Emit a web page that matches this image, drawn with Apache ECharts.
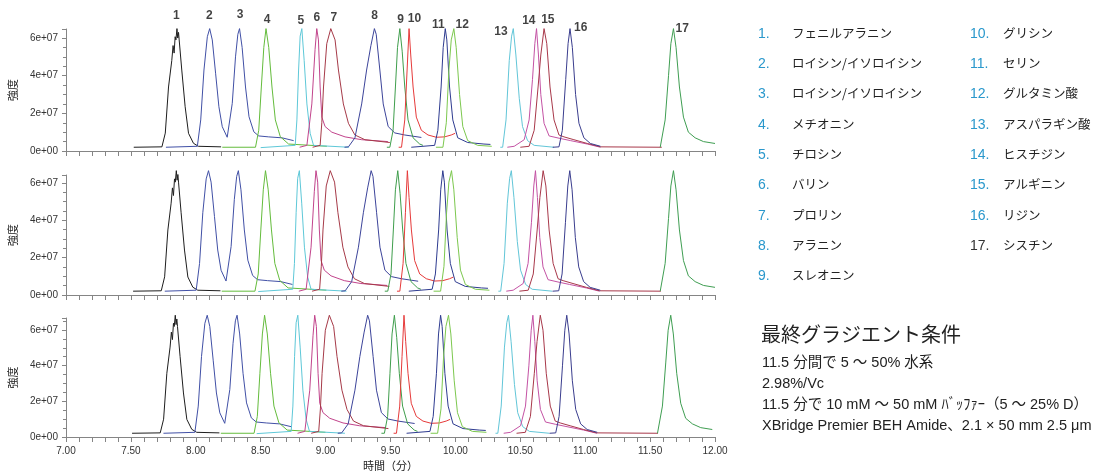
<!DOCTYPE html>
<html>
<head>
<meta charset="utf-8">
<script src="https://cdn.jsdelivr.net/npm/echarts@6/dist/echarts.min.js"></script>
<style>
  html, body { margin: 0; padding: 0; background: #fff; }
  #main { width: 1095px; height: 473px; }
</style>
</head>
<body>
<div id="main"></div>
<script>
// 保持時間の軸
var timeMin = 7, timeMax = 12;
var intensityMax = [6.48e7, 6.43e7, 6.67e7]; // 各パネルの縦軸上端

// 各トレースの形 [頂点からの時間差(分), 強度(×1e7)]  2/3 は同じトレース
var shape1 = [[-0.333,0.2],[-0.116,0.22],[-0.09,0.95],[-0.065,3.4],[-0.04,4.8],[-0.03,5.6],[-0.022,5.2],[-0.014,6.07],[-0.008,5.9],[0,6.5],[0.006,6.0],[0.012,6.3],[0.017,5.9],[0.037,4.3],[0.063,2.35],[0.089,0.94],[0.127,0.41],[0.165,0.25],[0.34,0.22]];
var shape2 = [[-0.337,0.2],[-0.095,0.25],[-0.069,1.65],[-0.044,4.3],[-0.018,6.07],[0,6.5],[0.02,5.9],[0.046,4.1],[0.071,2.35],[0.097,1.29],[0.135,0.73],[0.174,2.53],[0.199,5.0],[0.217,6.2],[0.23,6.5],[0.25,5.5],[0.276,3.4],[0.303,1.82],[0.34,1.02],[0.378,0.8],[0.455,0.75],[0.557,0.7],[0.647,0.55]];
var shape4 = [[-0.337,0.2],[-0.081,0.2],[-0.056,1.1],[-0.036,3.4],[-0.017,5.5],[0,6.5],[0.021,5.5],[0.046,3.4],[0.072,1.65],[0.11,0.76],[0.174,0.37],[0.469,0.25]];
var shape5 = [[-0.317,0.18],[-0.051,0.3],[-0.038,1.65],[-0.025,4.3],[-0.013,6.1],[0,6.5],[0.018,4.8],[0.039,2.5],[0.064,0.94],[0.09,0.3],[0.363,0.2]];
var shape6 = [[-0.132,0.2],[-0.076,0.3],[-0.038,2.5],[-0.013,5.4],[0,6.5],[0.013,5.9],[0.026,3.4],[0.039,1.8],[0.064,1.3],[0.116,1.0],[0.218,0.75],[0.346,0.6],[0.548,0.5]];
var shape7 = [[-0.14,0.2],[-0.082,0.3],[-0.069,1.5],[-0.056,3.4],[-0.031,5.7],[0,6.5],[0.033,5.9],[0.059,4.3],[0.097,2.5],[0.136,1.47],[0.186,0.85],[0.263,0.6],[0.455,0.45]];
var shape8 = [[-0.23,0.2],[-0.2,0.22],[-0.15,0.7],[-0.098,2.5],[-0.06,4.3],[-0.027,5.6],[0,6.5],[0.014,6.2],[0.042,4.3],[0.068,2.5],[0.106,1.3],[0.157,0.96],[0.234,0.85],[0.362,0.72]];
var shape9 = [[-0.1,0.2],[-0.077,0.2],[-0.052,1.1],[-0.034,3.4],[-0.018,5.5],[0,6.5],[0.018,5.3],[0.038,3.4],[0.063,1.65],[0.102,0.7],[0.153,0.37],[0.178,0.3]];
var shape10 = [[-0.08,0.2],[-0.058,0.2],[-0.033,1.65],[-0.015,4.3],[0,6.5],[0.013,5.1],[0.031,3.4],[0.056,1.8],[0.095,1.1],[0.146,0.85],[0.21,0.73],[0.273,0.75],[0.325,0.85],[0.355,0.94]];
var shape11 = [[-0.262,0.2],[-0.082,0.3],[-0.057,1.1],[-0.032,3.4],[-0.016,5.5],[0,6.5],[0.012,5.9],[0.033,3.4],[0.058,1.65],[0.096,0.7],[0.173,0.45],[0.298,0.37],[0.348,0.35]];
var shape12 = [[-0.138,0.2],[-0.084,0.2],[-0.058,1.5],[-0.038,4.3],[-0.02,5.9],[0,6.5],[0.018,5.5],[0.044,3.0],[0.069,1.3],[0.107,0.55],[0.184,0.3],[0.292,0.25]];
var shape13 = [[-0.1,0.2],[-0.082,0.2],[-0.056,1.65],[-0.031,4.8],[-0.013,6.1],[0,6.5],[0.02,5.1],[0.046,2.8],[0.071,1.3],[0.11,0.55],[0.161,0.3],[0.314,0.2]];
var shape14 = [[-0.225,0.2],[-0.172,0.25],[-0.095,0.6],[-0.057,1.65],[-0.031,3.8],[-0.013,5.7],[0,6.5],[0.015,5.1],[0.033,3.0],[0.058,1.47],[0.097,0.8],[0.173,0.68],[0.263,0.55],[0.391,0.37],[0.493,0.2]];
var shape15 = [[-0.183,0.2],[-0.115,0.25],[-0.076,1.1],[-0.046,3.4],[-0.025,5.1],[0,6.5],[0.021,5.7],[0.046,3.4],[0.077,1.65],[0.115,0.85],[0.154,0.75],[0.23,0.6],[0.333,0.4],[0.435,0.22],[0.907,0.2]];
var shape16 = [[-0.133,0.2],[-0.085,0.22],[-0.059,1.1],[-0.033,3.8],[-0.015,5.7],[0,6.5],[0.018,5.5],[0.043,3.0],[0.069,1.47],[0.107,0.7],[0.157,0.4],[0.235,0.25]];
var shape17 = [[-0.102,0.2],[-0.064,1.65],[-0.038,4.0],[-0.02,5.7],[0,6.5],[0.02,5.5],[0.046,3.4],[0.077,1.8],[0.115,1.0],[0.167,0.7],[0.231,0.5],[0.32,0.4]];

var traceShapes = [shape1, shape2, shape4, shape5, shape6, shape7, shape8, shape9, shape10,
                   shape11, shape12, shape13, shape14, shape15, shape16, shape17];
var traceColors = ['#1e1e1e', '#4150a6', '#64bc3c', '#5ec8d8', '#c2448c', '#a63a48', '#3c449a', '#3f9e4c',
                   '#e63a3a', '#2e3b90', '#7cc84e', '#62c6d8', '#c452a4', '#a8384a', '#3a3d8e', '#3f9e52'];

// 各パネルの頂点の保持時間 (分)
var apexPanel1 = [7.855, 8.107, 8.541, 8.817, 8.932, 9.04, 9.376, 9.572, 9.643, 9.922, 9.988, 10.446, 10.625, 10.683, 10.883, 11.68];
var apexPanel2 = [7.85, 8.098, 8.537, 8.798, 8.926, 9.036, 9.351, 9.556, 9.63, 9.903, 9.97, 10.431, 10.617, 10.676, 10.881, 11.68];
var apexPanel3 = [7.842, 8.088, 8.53, 8.786, 8.916, 9.029, 9.324, 9.53, 9.604, 9.886, 9.947, 10.409, 10.597, 10.654, 10.858, 11.659];
var panelScale = [1.0, 1.025, 1.05];

// ピーク番号の位置 [分, 強度×1e7]
var peakLabels = ['1','2','3','4','5','6','7','8','9','10','11','12','13','14','15','16','17'];
var peakLabelPos = [[7.851,7.2],[8.104,7.2],[8.342,7.25],[8.549,7.0],[8.81,6.94],[8.933,7.1],[9.063,7.1],[9.377,7.2],
                    [9.577,7.0],[9.684,7.04],[9.868,6.72],[10.052,6.72],[10.351,6.35],[10.566,6.94],[10.712,7.0],[10.965,6.57],[11.747,6.51]];

var compoundNames = ['フェニルアラニン','ロイシン/イソロイシン','ロイシン/イソロイシン','メチオニン','チロシン','バリン','プロリン','アラニン','スレオニン',
                     'グリシン','セリン','グルタミン酸','アスパラギン酸','ヒスチジン','アルギニン','リジン','シスチン'];
var conditionTitle = '最終グラジエント条件';
var conditionLines = ['11.5 分間で 5 ～ 50% 水系', '2.98%/Vc', '11.5 分で 10 mM ～ 50 mM ﾊﾞｯﾌｧｰ（5 ～ 25% D）', 'XBridge Premier BEH Amide、2.1 × 50 mm 2.5 μm'];

var chart = echarts.init(document.getElementById('main'));
var font = "'Liberation Sans', Arial, 'Noto Sans CJK JP', sans-serif";
var axisColor = '#858585';

var grids = [
  { left: 63, top: 29, width: 652, height: 122 },
  { left: 63, top: 175, width: 652, height: 120 },
  { left: 63, top: 318, width: 652, height: 120 }
];
var xOffsets = [3, 3, 4];
var apexes = [apexPanel1, apexPanel2, apexPanel3];

var xAxes = [], yAxes = [], series = [];
for (var p = 0; p < 3; p++) {
  var last = p === 2;
  xAxes.push({
    type: 'value', gridIndex: p, min: timeMin, max: timeMax, interval: 0.5, offset: xOffsets[p],
    name: last ? '時間（分）' : '', nameLocation: 'middle', nameGap: 20,
    nameTextStyle: { fontSize: 11, color: '#222', fontFamily: font },
    axisLine: { show: true, lineStyle: { color: axisColor, width: 1 } },
    axisTick: { show: true, length: 5, lineStyle: { color: axisColor } },
    minorTick: { show: true, splitNumber: 5, length: 5, lineStyle: { color: axisColor } },
    splitLine: { show: false },
    axisLabel: { show: last, margin: 5, fontSize: 10, color: '#333', fontFamily: font,
      formatter: function (v) { return v.toFixed(2); } }
  });
  yAxes.push({
    type: 'value', gridIndex: p, min: 0, max: intensityMax[p], interval: 2e7,
    name: '強度', nameLocation: 'middle', nameGap: 46,
    nameTextStyle: { fontSize: 11, color: '#222', fontFamily: font },
    axisLine: { show: true, lineStyle: { color: axisColor, width: 1 } },
    axisTick: { show: true, length: 4, lineStyle: { color: axisColor } },
    minorTick: { show: true, splitNumber: 4, length: 3, lineStyle: { color: axisColor } },
    splitLine: { show: false },
    axisLabel: { margin: 8, fontSize: 10, color: '#333', fontFamily: font, showMaxLabel: false,
      formatter: function (v) { return v === 0 ? '0e+00' : (v / 1e7) + 'e+07'; } }
  });
  traceShapes.forEach(function (shape, k) {
    var apex = apexes[p][k], sc = panelScale[p];
    series.push({
      type: 'line', xAxisIndex: p, yAxisIndex: p, showSymbol: false, clip: false,
      animation: false, silent: true,
      lineStyle: { color: traceColors[k], width: 1 },
      data: shape.map(function (pt) { return [apex + pt[0], pt[1] * 1e7 * sc]; })
    });
  });
}

// ピーク番号
series.push({
  type: 'scatter', xAxisIndex: 0, yAxisIndex: 0, clip: false, symbolSize: 1, animation: false, silent: true,
  itemStyle: { color: 'rgba(0,0,0,0)' },
  label: { show: true, position: 'inside', formatter: '{b}', fontSize: 12, fontWeight: 'bold', color: '#111', fontFamily: font },
  data: peakLabels.map(function (n, i) { return { name: n, value: [peakLabelPos[i][0], peakLabelPos[i][1] * 1e7] }; })
});

// 右側の化合物リストと条件
var graphics = [];
compoundNames.forEach(function (name, i) {
  var col = i < 9 ? 0 : 1, row = i < 9 ? i : i - 9;
  var y = 33 + row * 30.3;
  graphics.push({ type: 'text', x: col ? 970 : 758, y: y + 1,
    style: { text: (i + 1) + '.', fontSize: 14, fontFamily: font, fill: i === 16 ? '#333' : '#2a98cc', verticalAlign: 'middle' } });
  graphics.push({ type: 'text', x: col ? 1003 : 792, y: y,
    style: { text: name, fontSize: 12.5, fontFamily: "'Noto Sans CJK JP', sans-serif", fill: '#222', verticalAlign: 'middle' } });
});
graphics.push({ type: 'text', x: 761, y: 334,
  style: { text: conditionTitle, fontSize: 20, fontFamily: "'Noto Sans CJK JP', sans-serif", fill: '#222', verticalAlign: 'middle' } });
conditionLines.forEach(function (line, i) {
  graphics.push({ type: 'text', x: 762, y: 362.5 + i * 21.3,
    style: { text: line, fontSize: 14.5, fontFamily: font, fill: '#222', verticalAlign: 'middle' } });
});

chart.setOption({
  backgroundColor: '#fff',
  animation: false,
  grid: grids,
  xAxis: xAxes,
  yAxis: yAxes,
  series: series,
  graphic: graphics
});
</script>
</body>
</html>
